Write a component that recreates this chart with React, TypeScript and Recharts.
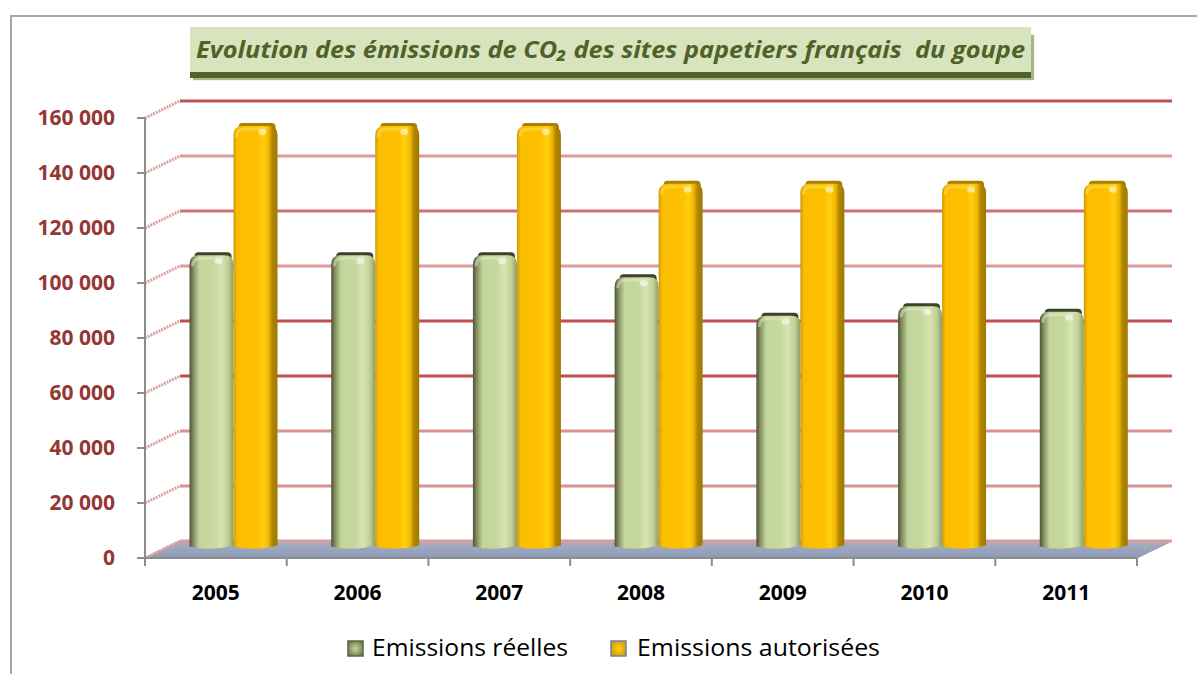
import React from 'react';
import { ComposedChart, Bar, XAxis, YAxis, CartesianGrid } from 'recharts';

const years = ['2005', '2006', '2007', '2008', '2009', '2010', '2011'];
const emissionsReelles = [107000, 107000, 107000, 99000, 85000, 88500, 86500];
const emissionsAutorisees = [154000, 154000, 154000, 133000, 133000, 133000, 133000];
const yTicks = [0, 20000, 40000, 60000, 80000, 100000, 120000, 140000, 160000];
const seriesNames = ['Emissions réelles', 'Emissions autorisées'];
const titleText = 'Evolution des émissions de CO₂ des sites papetiers français  du goupe';

const data = years.map((y, i) => ({
  year: y,
  reelles: emissionsReelles[i],
  autorisees: emissionsAutorisees[i],
}));

const W = 1197;
const H = 674;
const M = { top: 118, right: 60, bottom: 76, left: 0 };
const Y_AXIS_W = 145;
const X_AXIS_H = 40;
const PLOT_W = W - M.left - M.right - Y_AXIS_W;
const DX = 35;
const DY = -17;
const TICK = 8;
const TICK_MARGIN = 19;

const fmt = (v: number) => {
  const s = String(v);
  return s.replace(/\B(?=(\d{3})+(?!\d))/g, ' ');
};

const gridColors = ['#dc9a99', '#d89291', '#d89291', '#c0504d', '#c0504d', '#dc9a99', '#d07070', '#dc9a99', '#c0504d'];

const gridLine = (props: any) => {
  const { x1, x2, y1, y, height, index } = props;
  const isFloor = Math.abs(y1 - (y + height)) < 1;
  const col = gridColors[index % gridColors.length];
  return (
    <g key={`gl-${index}`}>
      {isFloor && (
        <polygon
          points={`${x1},${y1} ${x2},${y1} ${x2 + DX},${y1 + DY} ${x1 + DX},${y1 + DY}`}
          fill="url(#floorGrad)"
          stroke="#9a9a9a"
          strokeWidth={1}
        />
      )}
      <line x1={x1} y1={y1} x2={x1 + DX} y2={y1 + DY} stroke="#e0a0a0" strokeWidth={3} strokeDasharray="2 1" />
      <line x1={x1 + DX} y1={y1 + DY} x2={x2 + DX} y2={y1 + DY} stroke={col} strokeWidth={3} />
    </g>
  );
};

const makeShape = (grad: string, cap: string, hi: string) => (props: any) => {
  const { x, y, width, height } = props;
  if (!height || height <= 0) return <g />;
  const bx = x + DX / 2;
  const by = y + DY / 2;
  const r = 9;
  const bottom = by + height;
  const d = `M ${bx} ${bottom - 3} L ${bx} ${by + r} Q ${bx} ${by} ${bx + r} ${by} L ${bx + width - r} ${by} Q ${bx + width} ${by} ${bx + width} ${by + r} L ${bx + width} ${bottom - 4} Q ${bx + width / 2} ${bottom + 2} ${bx} ${bottom - 3} Z`;
  return (
    <g>
      <rect x={bx + 5} y={by - 3} width={width - 7} height={10} rx={4} fill={cap} />
      <path d={d} fill={`url(#${grad})`} />
      <path
        d={`M ${bx + 3} ${by + r + 2} Q ${bx + 3} ${by + 3} ${bx + r + 2} ${by + 3} L ${bx + width - r - 2} ${by + 3}`}
        stroke={hi}
        strokeOpacity={0.5}
        strokeWidth={3}
        fill="none"
      />
      <ellipse cx={bx + width * 0.66} cy={by + 6} rx={4} ry={3} fill="#ffffff" fillOpacity={0.55} />
    </g>
  );
};

const greenShape = makeShape('greenGrad', '#3d4329', '#e4eccb');
const orangeShape = makeShape('orangeGrad', '#a98000', '#ffe066');

const XTick = (props: any) => {
  const { x, y, payload, index } = props;
  const step = PLOT_W / years.length;
  const axisY = y - TICK - TICK_MARGIN;
  return (
    <g>
      <line x1={x - step / 2} y1={axisY} x2={x - step / 2} y2={axisY + TICK} stroke="#8c8c8c" strokeWidth={2} />
      {index === years.length - 1 && (
        <line x1={x + step / 2} y1={axisY} x2={x + step / 2} y2={axisY + TICK} stroke="#8c8c8c" strokeWidth={2} />
      )}
      <text
        x={x}
        y={y}
        dy="0.71em"
        textAnchor="middle"
        fill="#000000"
        fontFamily="'Open Sans', sans-serif"
        fontWeight="bold"
        fontSize={21}
      >
        {payload.value}
      </text>
    </g>
  );
};

const legendItems = [
  { name: seriesNames[0], grad: 'legGreen', stroke: '#5c6440', iconX: 348, textX: 372, textW: 196 },
  { name: seriesNames[1], grad: 'legOrange', stroke: '#6f82a6', iconX: 611, textX: 637, textW: 243 },
];

export default function App() {
  return (
    <div style={{ position: 'absolute', left: 0, top: 0, width: W, height: H, background: '#ffffff', overflow: 'hidden' }}>
      <div
        style={{
          position: 'absolute',
          left: 10,
          top: 15,
          width: W,
          height: H,
          border: '2px solid #a6a6a6',
          boxSizing: 'border-box',
        }}
      />
      <div style={{ position: 'absolute', left: 0, top: 0 }}>
        <ComposedChart width={W} height={H} data={data} margin={M} barGap={0} barSize={44}>
          <defs>
            <linearGradient id="greenGrad" x1="0" y1="0" x2="1" y2="0">
              <stop offset="0%" stopColor="#4d5236" />
              <stop offset="8%" stopColor="#7f8a5e" />
              <stop offset="22%" stopColor="#c2d59a" />
              <stop offset="55%" stopColor="#c6d89e" />
              <stop offset="72%" stopColor="#d6e5b2" />
              <stop offset="88%" stopColor="#bfd094" />
              <stop offset="100%" stopColor="#8e9a6c" />
            </linearGradient>
            <linearGradient id="orangeGrad" x1="0" y1="0" x2="1" y2="0">
              <stop offset="0%" stopColor="#c99a10" />
              <stop offset="8%" stopColor="#fbbd00" />
              <stop offset="55%" stopColor="#ffc000" />
              <stop offset="68%" stopColor="#ffcf10" />
              <stop offset="80%" stopColor="#f2b600" />
              <stop offset="88%" stopColor="#b08600" />
              <stop offset="100%" stopColor="#a07800" />
            </linearGradient>
            <linearGradient id="floorGrad" x1="0" y1="0" x2="0" y2="1">
              <stop offset="0%" stopColor="#a9b0bf" />
              <stop offset="100%" stopColor="#8c9ab8" />
            </linearGradient>
          </defs>
          <CartesianGrid horizontal={gridLine} vertical={false} />
          <XAxis
            dataKey="year"
            height={X_AXIS_H}
            axisLine={{ stroke: '#8c8c8c', strokeWidth: 2 }}
            tickLine={false}
            tickSize={TICK}
            tickMargin={TICK_MARGIN}
            tick={<XTick />}
            interval={0}
          />
          <YAxis
            width={Y_AXIS_W}
            domain={[0, 160000]}
            ticks={yTicks}
            interval={0}
            tickFormatter={fmt}
            axisLine={{ stroke: '#8c8c8c', strokeWidth: 2 }}
            tickLine={{ stroke: '#8c8c8c', strokeWidth: 2 }}
            tickSize={TICK}
            tickMargin={22}
            tick={{ fill: '#953735', fontFamily: "'Open Sans', sans-serif", fontWeight: 'bold', fontSize: 21 }}
          />
          <Bar dataKey="reelles" name={seriesNames[0]} fill="#c4d79b" shape={greenShape} isAnimationActive={false} />
          <Bar dataKey="autorisees" name={seriesNames[1]} fill="#ffc000" shape={orangeShape} isAnimationActive={false} />
        </ComposedChart>
      </div>
      <div
        style={{
          position: 'absolute',
          left: 190,
          top: 27,
          width: 841,
          height: 45,
          background: '#d7e4bd',
          boxShadow: '0 6px 0 #4f6228, 3px 8px 1px #a9b48e',
        }}
      />
      <svg width={W} height={80} style={{ position: 'absolute', left: 0, top: 0 }}>
        <text
          x={196}
          y={58}
          textLength={829}
          lengthAdjust="spacingAndGlyphs"
          fontSize={24}
          fill="#4f6228"
          fontFamily="'Open Sans', sans-serif"
          fontStyle="italic"
          fontWeight="bold"
          style={{ whiteSpace: 'pre' }}
        >
          {titleText}
        </text>
      </svg>
      <svg width={W} height={60} style={{ position: 'absolute', left: 0, top: 620 }}>
        <defs>
          <radialGradient id="legGreen" cx="50%" cy="50%" r="60%">
            <stop offset="0%" stopColor="#c6d59c" />
            <stop offset="100%" stopColor="#6d7650" />
          </radialGradient>
          <radialGradient id="legOrange" cx="50%" cy="50%" r="60%">
            <stop offset="0%" stopColor="#ffd21a" />
            <stop offset="100%" stopColor="#d29a00" />
          </radialGradient>
        </defs>
        {legendItems.map((it) => (
          <g key={it.name}>
            <rect x={it.iconX} y={21} width={15} height={15} fill={`url(#${it.grad})`} stroke={it.stroke} strokeWidth={1.5} />
            <text
              x={it.textX}
              y={36}
              textLength={it.textW}
              lengthAdjust="spacingAndGlyphs"
              fill="#000000"
              fontFamily="'Open Sans', sans-serif"
              fontSize={23}
            >
              {it.name}
            </text>
          </g>
        ))}
      </svg>
    </div>
  );
}
